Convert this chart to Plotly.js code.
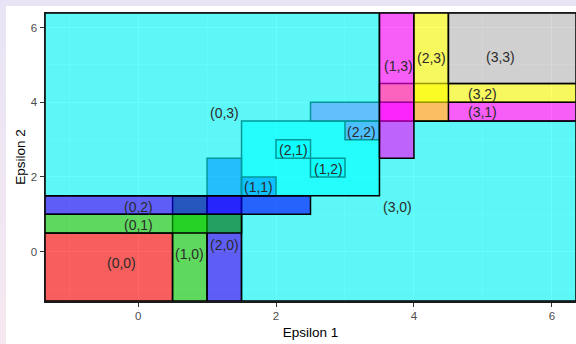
<!DOCTYPE html>
<html>
<head>
<meta charset="utf-8">
<script src="https://cdn.plot.ly/plotly-3.0.1.min.js"></script>
<style>
  html, body { margin:0; padding:0; width:576px; height:344px; overflow:hidden;
    background: linear-gradient(to bottom, #e8e4f5, #f6e8f0); }
  #card { position:absolute; left:6px; top:6px; width:570px; height:338px; background:#ffffff; }
  #plot { position:absolute; left:0; top:0; width:576px; height:344px; }
</style>
</head>
<body>
<div id="card"></div>
<div id="plot"></div>
<script>
// Region labels in drawing order
const regions = ["(0,0)","(1,0)","(2,0)","(3,0)","(1,1)","(2,1)","(1,2)","(2,2)",
                 "(3,1)","(3,2)","(0,1)","(0,2)","(0,3)","(1,3)","(2,3)","(3,3)"];
// Rectangle bounds (null = unbounded, extends to panel edge)
const xmin = [null, 0.5, 1.0, 1.5, 1.5, 2.0, 2.5, 3.0, 2.5, 3.5, null, null, null, 3.5, 4.0, 4.5];
const xmax = [0.5, 1.0, 1.5, null, 2.0, 2.5, 3.0, 3.5, null, null, 1.5, 2.5, 3.5, 4.0, 4.5, null];
const ymin = [null, null, null, null, 1.5, 2.5, 2.0, 3.0, 3.5, 4.0, 0.5, 1.0, 1.5, 2.5, 3.5, 4.5];
const ymax = [0.5, 1.5, 2.5, 3.5, 2.0, 3.0, 2.5, 3.5, 4.0, 4.5, 1.0, 1.5, null, null, null, null];
const fillName = ["red","green3","blue","cyan","blue","cyan","cyan","magenta",
                  "magenta","yellow","green3","blue","cyan","magenta","yellow","gray"];
// Label positions
const labelX = [-0.24, 0.75, 1.25, 3.76, 1.75, 2.25, 2.76, 3.24, 5.00, 5.00, 0.00, 0.00, 1.26, 3.77, 4.26, 5.26];
const labelY = [-0.31, -0.07, 0.18, 1.20, 1.72, 2.71, 2.21, 3.21, 3.75, 4.22, 0.715, 1.205, 3.71, 4.96, 5.18, 5.21];
const xTicks = [0, 2, 4, 6];
const yTicks = [0, 2, 4, 6];

const rgb = {red:"255,0,0", green3:"0,205,0", blue:"0,0,255", cyan:"0,255,255",
             magenta:"255,0,255", yellow:"255,255,0", gray:"190,190,190"};
const xr = [-1.35, 6.35];
const yr = [-1.32, 6.39];
const FONT = "Liberation Sans, Arial, sans-serif";

const shapes = regions.map((r, i) => ({
  type: "rect", xref: "x", yref: "y",
  x0: xmin[i] === null ? xr[0] : xmin[i],
  x1: xmax[i] === null ? xr[1] : xmax[i],
  y0: ymin[i] === null ? yr[0] : ymin[i],
  y1: ymax[i] === null ? yr[1] : ymax[i],
  fillcolor: "rgba(" + rgb[fillName[i]] + ",0.6)",
  line: {color: "#000000", width: 1.5},
  layer: "above"
}));

const annotations = regions.map((r, i) => ({
  x: labelX[i], y: labelY[i], xref: "x", yref: "y", text: r, showarrow: false,
  xanchor: "center", yanchor: "middle",
  font: {family: FONT, size: 14, color: "#2b2b2b"}
}));

const axisCommon = {
  showgrid: true, gridcolor: "#ffffff", gridwidth: 1,
  minor: {showgrid: true, dtick: 1, gridcolor: "#ffffff", gridwidth: 0.5},
  zeroline: false, ticks: "outside", ticklen: 4, tickcolor: "#333333", tickwidth: 1,
  tickfont: {family: FONT, size: 11.5, color: "#4d4d4d"},
  showline: true, mirror: true, linecolor: "#1a1a1a", linewidth: 1.5,
  fixedrange: true
};

const layout = {
  width: 576, height: 344,
  margin: {l: 45, r: 0, t: 13, b: 43},
  paper_bgcolor: "rgba(0,0,0,0)",
  plot_bgcolor: "#ebebeb",
  showlegend: false,
  xaxis: Object.assign({}, axisCommon, {
    range: xr, tickvals: xTicks, ticktext: xTicks.map(String),
    title: {text: "Epsilon 1", standoff: 6,
            font: {family: FONT, size: 13.5, color: "#000000"}}
  }),
  yaxis: Object.assign({}, axisCommon, {
    range: yr, tickvals: yTicks, ticktext: yTicks.map(String),
    title: {text: "Epsilon 2", standoff: 2,
            font: {family: FONT, size: 13.5, color: "#000000"}}
  }),
  shapes: shapes,
  annotations: annotations
};

Plotly.newPlot("plot", [{x: [], y: [], type: "scatter", mode: "markers", hoverinfo: "skip"}],
  layout, {displayModeBar: false, staticPlot: true});
</script>
</body>
</html>
